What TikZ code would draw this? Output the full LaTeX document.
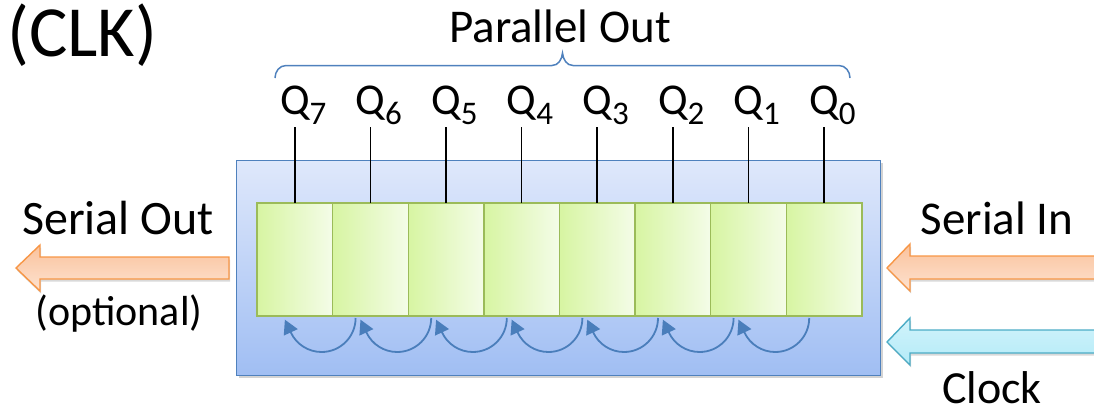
\documentclass[tikz,border=0pt]{standalone}
\usepackage{fontspec}
\setmainfont{Carlito}
\usetikzlibrary{arrows.meta,shadows}
\definecolor{boxtop}{HTML}{DFE8FB}
\definecolor{boxbot}{HTML}{A0BEF3}
\definecolor{boxline}{HTML}{4F81BD}
\definecolor{cellL}{HTML}{D7F5A2}
\definecolor{cellR}{HTML}{F4FCE8}
\definecolor{cellline}{HTML}{9BBB59}
\definecolor{orline}{HTML}{F79646}
\definecolor{ortop}{HTML}{FAC29C}
\definecolor{orbot}{HTML}{FDE2D0}
\definecolor{cyline}{HTML}{4BACC6}
\definecolor{cytop}{HTML}{D2F3FB}
\definecolor{cybot}{HTML}{B3EBF8}
\definecolor{arccol}{HTML}{4A7EBB}
\tikzset{
  regbox/.style={draw=boxline, line width=1.4pt, top color=boxtop, bottom color=boxbot,
    minimum width=644pt, minimum height=215pt, inner sep=0pt, anchor=north west,
    drop shadow={opacity=0.35, shadow xshift=2pt, shadow yshift=-2.5pt}},
  cell/.style={draw=cellline, line width=1.4pt, left color=cellL, right color=cellR,
    minimum width=75.6pt, minimum height=113pt, inner sep=0pt, outer sep=0pt},
  qlab/.style={anchor=base, inner sep=0pt, font=\fontsize{44}{48}\selectfont},
  qline/.style={line width=1.5pt},
  shiftarc/.style={draw=arccol, line width=1.8pt, -{Triangle[length=14pt,width=15pt]}},
  bracecol/.style={draw=boxline, line width=1.5pt},
  bigtxt/.style={inner sep=0pt, font=\fontsize{48}{52}\selectfont},
  orarrow/.style={draw=orline, line width=1.4pt, top color=ortop, bottom color=orbot,
    drop shadow={opacity=0.3, shadow xshift=1pt, shadow yshift=-2.5pt}},
  cyarrow/.style={draw=cyline, line width=1.4pt, top color=cytop, bottom color=cybot,
    drop shadow={opacity=0.3, shadow xshift=1pt, shadow yshift=-2.5pt}},
}
\begin{document}
\begin{tikzpicture}[x=1pt,y=1pt]
\useasboundingbox (0,0) rectangle (1094,-413);
% title
\node[bigtxt, anchor=base west, font=\fontsize{72}{76}\selectfont] (clk) at (7,-56) {(CLK)};
\node[bigtxt, anchor=base, font=\fontsize{47}{50}\selectfont] (par) at (560,-42) {Parallel Out};
% brace
\draw[bracecol] (275,-78) to[out=90,in=180] (286,-65.5) -- (552,-65.5)
  to[out=0,in=-95] (562.5,-53) to[out=-85,in=180] (573,-65.5) -- (839,-65.5)
  to[out=0,in=90] (850,-78);
% register
\node[regbox] (reg) at (236,-160) {};
\foreach \i in {0,...,7}{
  \pgfmathsetmacro\xx{257+75.6*(7-\i)+37.8}
  \node[cell] (c\i) at (\xx,-259.5) {};
  \node[qlab] (q\i) at (\xx,-114) {Q\rlap{\raisebox{-10pt}{\fontsize{33}{33}\selectfont\i}}};
  \coordinate (t\i) at (\xx,-127);
  \draw[qline] (t\i) -- (c\i.north);
}
\foreach \i in {0,...,6}{
  \draw[shiftarc] ([xshift=23pt,yshift=-2pt]c\i.south west) arc[start angle=0, end angle=-155, radius=34pt] -- ++(-5.9,12.7);
}
% serial out arrow
\path[orarrow] (229,-257) -- (40,-257) -- (40,-245) -- (16,-268) -- (40,-291) -- (40,-279) -- (229,-279) -- cycle;
\node[bigtxt, anchor=base] (sout) at (118,-234) {Serial Out};
\node[bigtxt, anchor=base, font=\fontsize{42}{46}\selectfont] (opt) at (119,-325) {(optional)};
% serial in arrow
\path[orarrow] (1110,-256) -- (910,-256) -- (910,-244) -- (887,-268) -- (910,-291) -- (910,-279) -- (1110,-279) -- cycle;
\node[bigtxt, anchor=base, font=\fontsize{47}{50}\selectfont] (sin) at (997,-234) {Serial In};
% clock arrow
\path[cyarrow] (1110,-330) -- (910,-330) -- (910,-318) -- (887,-342) -- (910,-365) -- (910,-353) -- (1110,-353) -- cycle;
\node[bigtxt, anchor=base, font=\fontsize{46}{50}\selectfont] (clock) at (992,-403) {Clock};
\end{tikzpicture}
\end{document}
